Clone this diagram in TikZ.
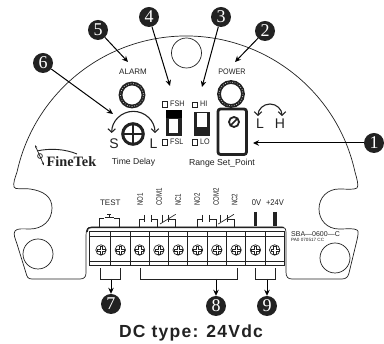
\documentclass[tikz,border=0pt]{standalone}
\usepackage{fontspec}
\setmainfont{Liberation Sans}
\newfontfamily\serifbold[BoldFont={Liberation Serif Bold}]{Liberation Serif}
\newfontfamily\spacedbold[LetterSpace=7]{Liberation Sans Bold}
\usetikzlibrary{arrows.meta}
\definecolor{ink}{HTML}{222222}
\newcommand{\fs}[1]{\fontsize{#1}{#1}\selectfont}
\tikzset{
  outline/.style={draw=ink,line width=.7pt},
  badge/.style={circle,fill=ink,text=white,minimum size=20pt,inner sep=0pt,font=\serifbold\fs{18}},
  pointer/.style={draw=black,line width=1pt,-{Stealth[length=6pt,width=5.5pt]}},
  bracket/.style={draw=ink,line width=.6pt},
  lab/.style={text=ink,inner sep=0pt,font=\fs{8}},
  vlab/.style={text=ink,inner sep=0pt,font=\fs{8},rotate=90,anchor=west,xscale=.76},
  contact/.style={draw=ink,line width=.65pt},
  turn/.style={draw=ink,line width=1.1pt,{Straight Barb[length=3.5pt,width=7.5pt]}-{Straight Barb[length=3.5pt,width=7.5pt]}},
  ring/.style={draw=ink,line width=3.8pt},
  ringdots/.style={draw=white,line width=.6pt,dash pattern=on .7pt off 1.8pt},
  tinybox/.style={draw=ink,line width=.7pt,fill=white}
}
\begin{document}
\begin{tikzpicture}[x=1pt,y=1pt,yscale=-1]
\useasboundingbox[fill=white] (0,0) rectangle (384,344);

% housing outline
\draw[outline,line join=round] (17,172) .. controls (15,178) and (13,183) .. (14,187)
  .. controls (15,190) and (22,188) .. (30,189)
  .. controls (44,191) and (52,197) .. (52,208)
  .. controls (52,221) and (42,229) .. (30,229)
  .. controls (24,229) and (17,228) .. (15,231)
  .. controls (13,234) and (15,238) .. (17,244)
  -- (26,273) .. controls (27,277) and (28,279) .. (32,279)
  -- (80,279) .. controls (84,279) and (86,277) .. (86,273)
  -- (86,236) .. controls (86,230) and (87,227) .. (92,227)
  -- (282,227) .. controls (285,227) and (286,229) .. (286,233)
  -- (286,272) .. controls (286,277) and (288,279) .. (292,279)
  -- (342,279) .. controls (346,279) and (348,277) .. (349,273)
  -- (357,240) .. controls (358,235) and (359,231) .. (357,230)
  .. controls (354,228) and (347,229) .. (339,229)
  .. controls (327,229) and (319,220) .. (319,209)
  .. controls (319,197) and (328,189) .. (339,189)
  .. controls (347,189) and (354,190) .. (357,188)
  .. controls (359,186) and (357,179) .. (355,172)
  arc (-12.35:-167.65:173);

% mounting holes
\draw[outline] (186.5,53) circle (15);
\draw[outline] (38,254) circle (15);
\draw[outline] (335,258) circle (15);

% terminal block
\draw[draw=ink,line width=1.3pt] (87,232) .. controls (87,229) and (88,227.5) .. (92,227.5) -- (284,227.5);
\draw[outline,line width=.9pt] (89,231.7) rectangle (284.5,265);
\draw[outline] (89,236.7) -- (284.5,236.7);
\draw[outline] (89,261) -- (284.5,261);
\foreach \k in {0,...,8} {
  \draw[outline,line width=.8pt] ({110.6+19.3*\k},231.7) -- ({110.6+19.3*\k},265);
}
\foreach \k in {0,...,9} {
  \begin{scope}[shift={({101+19.3*\k},250)}]
    \draw[draw=ink,line width=.7pt] (0,0) circle (5.2);
    \draw[draw=ink,line width=.4pt,fill=white] (-4,-1.1) -- (-1.1,-1.1) -- (-1.1,-4) -- (1.1,-4) -- (1.1,-1.1) -- (4,-1.1) -- (4,1.1) -- (1.1,1.1) -- (1.1,4) -- (-1.1,4) -- (-1.1,1.1) -- (-4,1.1) -- cycle;
  \end{scope}
}

% contact symbols
\draw[contact] (99.3,226.7) -- (99.3,218.5) -- (104.3,218.5);
\draw[contact] (119.7,226.7) -- (119.7,218.5) -- (114,218.5);
\draw[contact,line width=.9pt] (104.5,217) -- (114,217);
\draw[contact] (109,217) -- (109,214.5);
\draw[contact,line width=1.2pt] (107,214.5) -- (111,214.5);
\foreach \d in {0,58.3} {
  \begin{scope}[xshift=\d]
    \draw[contact] (139,226.7) -- (139,219.3) -- (144.3,219.3);
    \draw[contact] (144.3,215) -- (144.3,222.3);
    \draw[contact] (151,215) -- (151,222.3);
    \draw[contact] (151,219.3) -- (157.7,219.3) -- (157.7,226.7);
    \draw[contact] (162.3,215) -- (162.3,222.3);
    \draw[contact] (160,224) -- (175.7,214.3);
    \draw[contact] (168.7,215) -- (168.7,222.3);
    \draw[contact] (168.7,219.3) -- (175.7,219.3) -- (175.7,226.7);
  \end{scope}
}
\draw[draw=ink,line width=3.3pt] (255.3,212) -- (255.3,226.5);
\draw[draw=ink,line width=3.3pt] (275,212) -- (275,226.5);

% terminal labels
\node[lab] (ltest) at (110.3,202.5) {TEST};
\node[vlab] (lno1) at (140,206) {NO1};
\node[vlab] (lcom1) at (159,206) {COM1};
\node[vlab] (lnc1) at (178,206) {NC1};
\node[vlab] (lno2) at (197,206) {NO2};
\node[vlab] (lcom2) at (216,206) {COM2};
\node[vlab] (lnc2) at (234.5,206) {NC2};
\node[lab,font=\fs{8.4},xscale=.9] (l0v) at (256.5,202.5) {0V};
\node[lab,font=\fs{8.4},xscale=.9] (l24v) at (275,202.5) {+24V};
\node[lab,font=\fs{7},anchor=west] (lsba) at (291,233.7) {SBA---0600---C};
\node[lab,font=\fs{4.6},anchor=west] (lpa) at (291,240) {PA0 070517 CC};

% alarm / power rings
\draw[ring] (132,95) circle (11.5);
\draw[ringdots] (132,95) circle (11.5);
\draw[ring] (231,94) circle (12);
\draw[ringdots] (231,94) circle (12);
\node[lab] (lalarm) at (133,71.5) {ALARM};
\node[lab,xscale=.9] (lpower) at (232,71.5) {POWER};

% time delay knob
\draw[draw=ink,line width=3pt,fill=white] (133,134) circle (10.3);
\draw[draw=ink,line width=1.2pt] (123,134) -- (143,134) (133,124) -- (133,144);
\draw[turn] (111.7,133) arc (180:360:21.65);
\node[lab,font=\fs{14}] (ls) at (114,143.5) {S};
\node[lab,font=\fs{14}] (ll) at (153.5,143.5) {L};
\node[lab,font=\fs{8.6}] (ltime) at (133.5,162.5) {Time Delay};

% FSH/FSL switch
\draw[tinybox] (162,101.5) rectangle (167.5,107);
\draw[tinybox] (162,139.5) rectangle (167.5,145);
\node[lab,anchor=west,font=\fs{8},xscale=.9] (lfsh) at (170,104.2) {FSH};
\node[lab,anchor=west,font=\fs{8},xscale=.9] (lfsl) at (170,142.2) {FSL};
\fill[ink] (165.7,110) rectangle (181.7,136);
\fill[black] (165.7,110) rectangle (181.7,118);
\fill[white] (169,119.5) rectangle (178,133.5);

% HI/LO switch
\draw[tinybox] (192,102) rectangle (197.5,107.5);
\draw[tinybox] (192,139.5) rectangle (197.5,145);
\node[lab,anchor=west,font=\fs{8},xscale=.9] (lhi) at (200,104.2) {HI};
\node[lab,anchor=west,font=\fs{8},xscale=.9] (llo) at (200,142.2) {LO};
\fill[ink] (193.7,112) rectangle (210,136);
\fill[white] (197,113.5) rectangle (207,127);

% set point
\draw[draw=ink,line width=2.8pt,rounded corners=2.5pt,fill=white] (218,109) rectangle (246.5,154.5);
\draw[draw=ink,line width=1.8pt] (234,122) circle (5);
\draw[draw=ink,line width=1.6pt] (230.5,125.5) -- (237.5,118.5);
\draw[turn] (258,116) arc (180:360:12);
\node[lab,font=\fs{14}] (lL) at (260,123.5) {L};
\node[lab,font=\fs{14}] (lH) at (280,123.5) {H};
\node[lab,font=\fs{8.7}] (lrange) at (222,163) {Range Set\_Point};

% logo
\draw[draw=ink,line width=.9pt] (37,151) .. controls (50,148) and (65,149) .. (77,154);
\draw[draw=ink,line width=.7pt] (40,156) circle (2.4);
\draw[draw=ink,line width=.7pt,{Stealth[length=3pt]}-{Stealth[length=3pt]}] (35,145) -- (44,165.5);
\node[text=ink,inner sep=0pt,anchor=west,font=\serifbold\bfseries\fs{14.3}] (logo) at (46.5,162) {FineTek};

% numbered badges
\node[badge] (n1) at (374,143) {1};
\node[badge] (n2) at (265,31) {2};
\node[badge] (n3) at (221,17) {3};
\node[badge] (n4) at (149,17) {4};
\node[badge] (n5) at (98,30) {5};
\node[badge] (n6) at (43,63) {6};
\node[badge] (n7) at (111,304) {7};
\node[badge] (n8) at (216,306) {8};
\node[badge] (n9) at (267,306) {9};

\coordinate (t1) at (253,143);
\coordinate (t2) at (235,62);
\coordinate (t3) at (202,87);
\coordinate (t4) at (170,86);
\coordinate (t5) at (128,62);
\coordinate (t6) at (113,114);
\coordinate (b7) at (111,279);
\coordinate (b8) at (216,279);
\coordinate (b9) at (267,279);
\foreach \i in {1,...,6} { \draw[pointer] (n\i) -- (t\i); }
\foreach \i in {7,8,9} { \draw[pointer] (b\i) -- (n\i); }

% brackets
\draw[bracket] (100.5,268.5) -- (100.5,279) -- (120,279) -- (120,268.5);
\draw[bracket] (140.7,268.5) -- (140.7,279) -- (237,279) -- (237,268.5);
\draw[bracket] (255.5,268.5) -- (255.5,279) -- (275,279) -- (275,268.5);

% caption
\node[text=ink,inner sep=0pt,font=\spacedbold\fs{17.5}] (caption) at (191,333) {DC type: 24Vdc};
\end{tikzpicture}
\end{document}
